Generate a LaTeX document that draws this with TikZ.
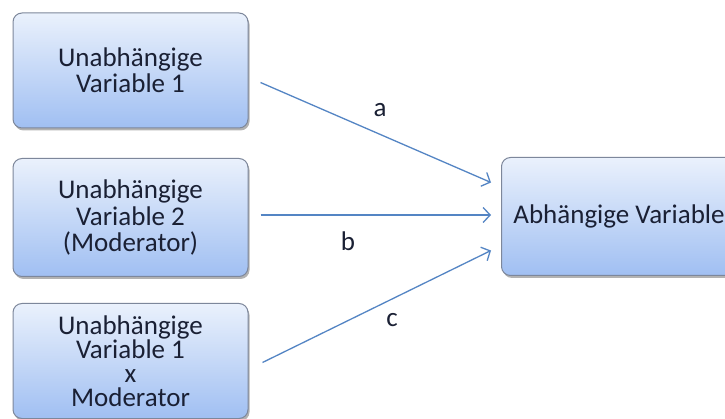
\documentclass[tikz,border=0pt]{standalone}
\usepackage{fontspec}
\setmainfont{Carlito}
\usetikzlibrary{arrows.meta,shadows}
\definecolor{boxtop}{RGB}{234,241,252}
\definecolor{boxbot}{RGB}{160,191,242}
\definecolor{boxline}{RGB}{125,135,155}
\definecolor{txt}{RGB}{26,32,52}
\definecolor{arrcol}{RGB}{84,133,196}
\begin{document}
\begin{tikzpicture}[x=1pt,y=-1pt,
  varbox/.style={draw=boxline, line width=1pt, rounded corners=9pt,
    top color=boxtop, bottom color=boxbot, minimum width=235pt,
    align=center, text=txt, inner sep=0pt,
    drop shadow={shadow xshift=1.5pt, shadow yshift=-2.5pt, fill=black, opacity=0.3}},
  arr/.style={draw=arrcol, line width=1.3pt, -{Straight Barb[length=7pt,width=15pt,line width=1.3pt]}},
  lbl/.style={text=txt, font=\fontsize{27}{27}\selectfont}]
\useasboundingbox[fill=white] (0,0) rectangle (725,419);
\node[varbox, minimum height=115pt, font=\fontsize{27}{26}\selectfont] (b1) at (130.5,70.5)
  {Unabhängige\\Variable 1};
\node[varbox, minimum height=118pt, font=\fontsize{27}{27}\selectfont] (b2) at (130.5,217.5)
  {Unabhängige\\Variable 2\\(Moderator)};
\node[varbox, minimum height=115pt, font=\fontsize{27}{24}\selectfont] (b3) at (130.5,361)
  {Unabhängige\\Variable 1\\x\\Moderator};
\node[varbox, minimum height=118pt, font=\fontsize{27}{27}\selectfont] (dv) at (619,216.5)
  {Abhängige Variable};
\draw[arr] ([shift={(12,12)}]b1.east) -- ([shift={(-10,-34)}]dv.west);
\draw[arr] ([shift={(12,-2.5)}]b2.east) -- ([shift={(-10,-1.5)}]dv.west);
\draw[arr] ([shift={(14,1.5)}]b3.east) -- ([shift={(-10,34)}]dv.west);
\node[lbl] (la) at (380,110) {a};
\node[lbl] (lb) at (348,241) {b};
\node[lbl] (lc) at (392,320) {c};
\end{tikzpicture}
\end{document}
